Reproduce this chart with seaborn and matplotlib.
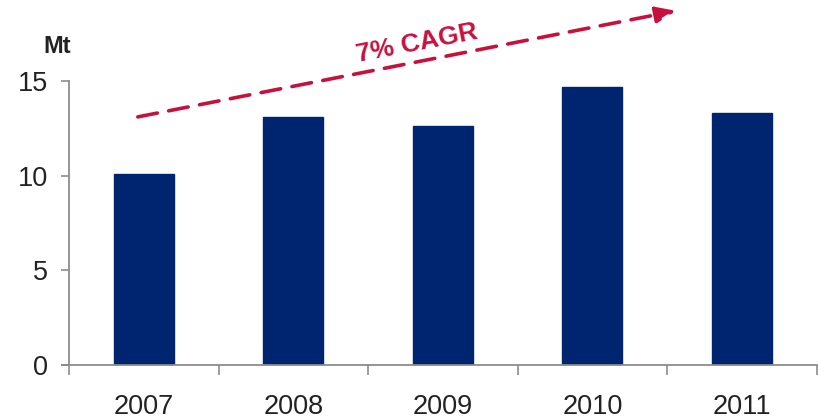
import matplotlib
matplotlib.use("Agg")
import matplotlib.pyplot as plt
import seaborn as sns
import pandas as pd
import numpy as np

years = ["2007", "2008", "2009", "2010", "2011"]
values = [10.1, 13.1, 12.6, 14.7, 13.3]
yticks = [0, 5, 10, 15]
unit_label = "Mt"
cagr_label = "7% CAGR"

sns.set_theme(style="white")
plt.rcParams['font.family'] = ['Liberation Sans', 'DejaVu Sans']

df = pd.DataFrame({"year": years, "value": values})

fig = plt.figure(figsize=(8.18, 4.19), dpi=100)
ax = fig.add_axes([0.0844, 0.1289, 0.914, 0.678])

sns.barplot(data=df, x="year", y="value", color="#002570", width=0.4,
            saturation=1, ax=ax, edgecolor="#002570")

ax.set_xlim(-0.5, 4.5)
ax.set_ylim(0, 15)
ax.set_yticks(yticks)
ax.set_xlabel("")
ax.set_ylabel("")

for s in ["top", "right"]:
    ax.spines[s].set_visible(False)
for s in ["left", "bottom"]:
    ax.spines[s].set_color("#8c8c8c")
    ax.spines[s].set_linewidth(1.3)
ax.spines["bottom"].set_bounds(-0.55, 4.5)

ax.tick_params(axis="y", which="major", direction="out", length=6, width=1.2,
               color="#8c8c8c", labelsize=19.5, labelcolor="#222222", pad=9, left=True)
ax.tick_params(axis="x", which="major", length=0, labelsize=19.5, labelcolor="#222222", pad=21)
ax.set_xticks(np.arange(-0.5, 5.0, 1.0), minor=True)
ax.tick_params(axis="x", which="minor", direction="out", length=7, width=1.2,
               color="#8c8c8c", bottom=True)

fig.text(0.07, 0.888, unit_label, fontsize=17, fontweight="bold", color="#222222",
         ha="center", va="center")

ax.annotate("", xy=(3.56, 18.7), xytext=(-0.04, 13.1),
            xycoords="data", textcoords="data", annotation_clip=False,
            arrowprops=dict(arrowstyle="-|>,head_length=1.0,head_width=0.4",
                            color="#C8103E", lw=2.6, linestyle=(0, (5.5, 3.2)),
                            shrinkA=0, shrinkB=0))
ax.text(1.83, 17.0, cagr_label, fontsize=19, fontweight="bold", color="#C8103E",
        rotation=11, ha="center", va="center", rotation_mode="anchor")

fig.savefig("out.png", dpi=100)
